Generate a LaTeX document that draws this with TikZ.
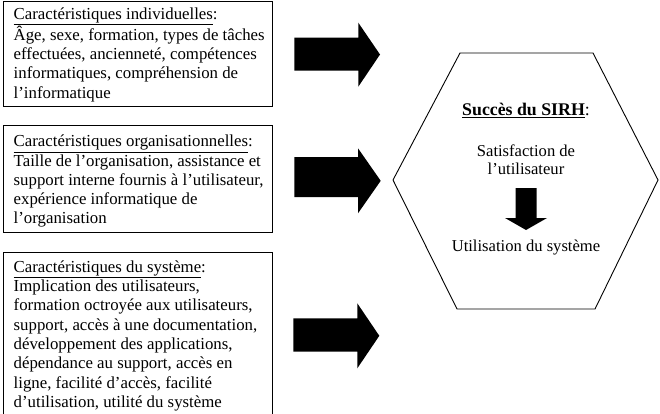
\documentclass[tikz,border=0pt]{standalone}
\usepackage{fontspec}
\setmainfont{Liberation Serif}
\usetikzlibrary{calc}
\begin{document}
\begin{tikzpicture}[x=1pt,y=-1pt,
  boxstyle/.style={draw=black,line width=1.1pt,inner sep=0pt,anchor=north west,minimum width=269.5pt},
  boxtext/.style={anchor=base west,inner sep=0pt,font=\fontsize{16.8pt}{19.3pt}\selectfont},
  hextext/.style={anchor=base,inner sep=0pt,font=\fontsize{16.6pt}{18pt}\selectfont},
  blockarrow/.style={fill=black,draw=none}]
\useasboundingbox (0,0) rectangle (660,414);
% boxes
\node[boxstyle,minimum height=105pt] (b1) at (2.5,1) {};
\node[boxstyle,minimum height=107pt] (b2) at (2.5,125) {};
\node[boxstyle,minimum height=175pt] (b3) at (2.5,251.7) {};
\node[boxtext] (t1) at (13.5,19.3) {\vtop{%
  \hbox{\underline{Caractéristiques individuelles}:}
  \hbox{Âge, sexe, formation, types de tâches}
  \hbox{effectuées, ancienneté, compétences}
  \hbox{informatiques, compréhension de}
  \hbox{l’informatique}}};
\node[boxtext] (t2) at (13.5,146.7) {\vtop{%
  \hbox{\underline{Caractéristiques organisationnelles}:}
  \hbox{Taille de l’organisation, assistance et}
  \hbox{support interne fournis à l’utilisateur,}
  \hbox{expérience informatique de}
  \hbox{l’organisation}}};
\node[boxtext] (t3) at (13.5,272.3) {\vtop{%
  \hbox{\underline{Caractéristiques du système}:}
  \hbox{Implication des utilisateurs,}
  \hbox{formation octroyée aux utilisateurs,}
  \hbox{support, accès à une documentation,}
  \hbox{développement des applications,}
  \hbox{dépendance au support, accès en}
  \hbox{ligne, facilité d’accès, facilité}
  \hbox{d’utilisation, utilité du système}}};
% big arrows
\coordinate (a1) at (294.3,37.7);
\coordinate (a2) at (294.3,157);
\coordinate (a3) at (293.3,318.3);
\fill[blockarrow] (a1) -- ++(64,0) -- ++(0,-15) -- ++(21.7,31.8) -- ++(-21.7,32.2) -- ++(0,-16) -- ++(-64,0) -- cycle;
\fill[blockarrow] (a2) -- ++(63.7,0) -- ++(0,-8.7) -- ++(22.7,32.5) -- ++(-22.7,32.5) -- ++(0,-16.3) -- ++(-63.7,0) -- cycle;
\fill[blockarrow] (a3) -- ++(64,0) -- ++(0,-15) -- ++(22,32.5) -- ++(-22,32.5) -- ++(0,-16.6) -- ++(-64,0) -- cycle;
% hexagon
\coordinate (h1) at (460,53);
\coordinate (h2) at (593,53);
\coordinate (h3) at (658,180);
\coordinate (h4) at (595,309);
\coordinate (h5) at (457,309);
\coordinate (h6) at (393,180);
\draw[line width=0.9pt] (h1) -- (h2) -- (h3) -- (h4) -- (h5) -- (h6) -- cycle;
\node[hextext,font=\fontsize{17.8pt}{18pt}\selectfont] (s1) at (526,116) {\textbf{\underline{Succès du SIRH}}:};
\node[hextext] (s2) at (526,157) {\vtop{\hbox to 0pt{\hss Satisfaction de\hss}\hbox to 0pt{\hss l’utilisateur\hss}}};
\node[hextext] (s3) at (526,251) {Utilisation du système};
% small arrow
\fill[blockarrow] (515.5,188) -- (536.5,188) -- (536.5,218) -- (547,218) -- (526,230) -- (505,218) -- (515.5,218) -- cycle;
\end{tikzpicture}
\end{document}
